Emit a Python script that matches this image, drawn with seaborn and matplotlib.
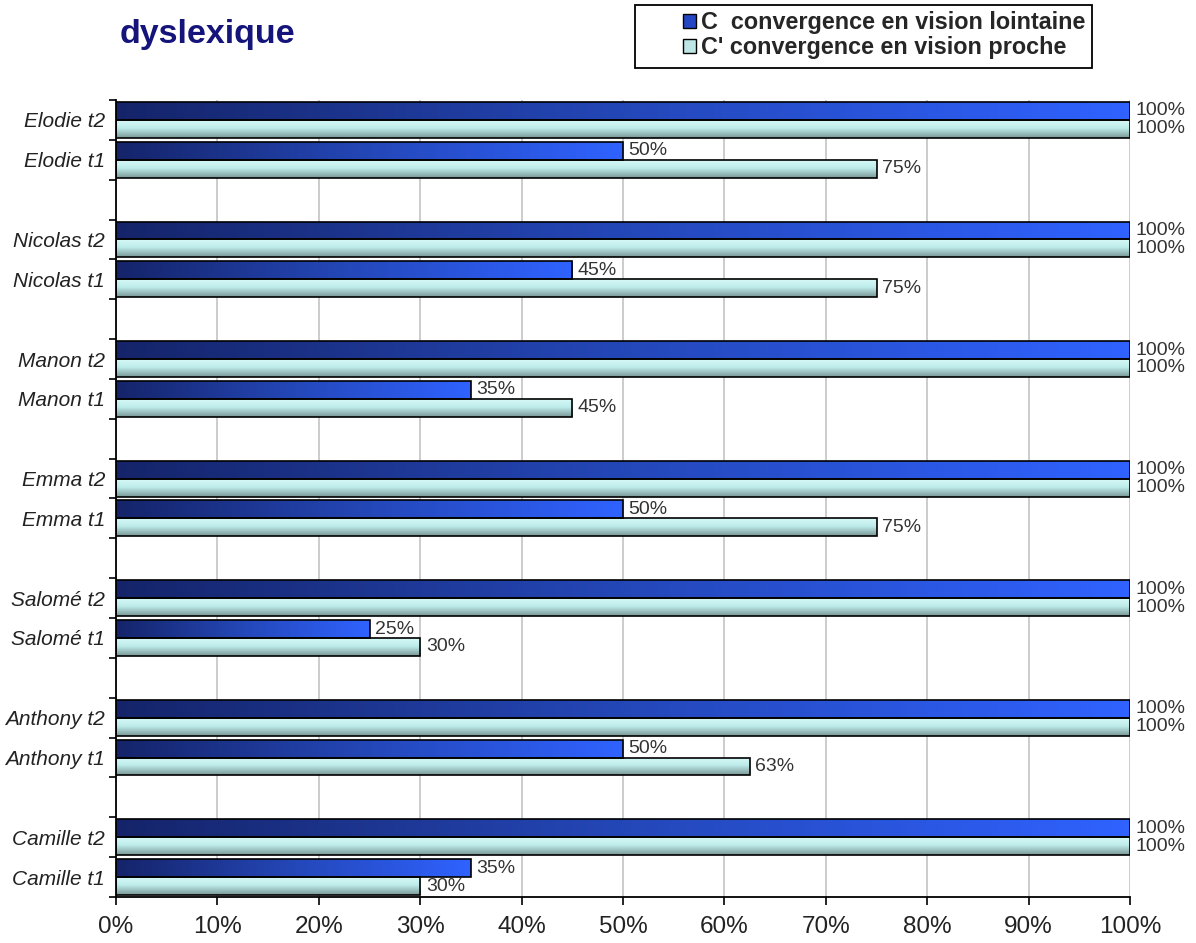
import numpy as np
import pandas as pd
import matplotlib
matplotlib.use("Agg")
import matplotlib.pyplot as plt
from matplotlib.colors import LinearSegmentedColormap
from matplotlib.patches import Patch, Rectangle
import seaborn as sns

# ---- data -------------------------------------------------------------
persons = ["Elodie", "Nicolas", "Manon", "Emma", "Salomé", "Anthony", "Camille"]
series = ["C  convergence en vision lointaine", "C' convergence en vision proche"]

far_t2 = [100, 100, 100, 100, 100, 100, 100]
near_t2 = [100, 100, 100, 100, 100, 100, 100]
far_t1 = [50, 45, 35, 50, 25, 50, 35]
near_t1 = [75, 75, 45, 75, 30, 62.5, 30]

x_ticks = [0, 10, 20, 30, 40, 50, 60, 70, 80, 90, 100]
title = "dyslexique"

# ---- long-form table with blank spacer rows between persons ------------
order = []
rows = []
for i, p in enumerate(persons):
    for sess, fv, nv in (("t2", far_t2[i], near_t2[i]), ("t1", far_t1[i], near_t1[i])):
        lab = f"{p} {sess}"
        order.append(lab)
        rows.append({"row": lab, "serie": series[0], "val": fv})
        rows.append({"row": lab, "serie": series[1], "val": nv})
    if i < len(persons) - 1:
        order.append(" " * (i + 1))
df = pd.DataFrame(rows)

# ---- styling ----------------------------------------------------------
sns.set_style("ticks")
plt.rcParams["font.family"] = ["Liberation Sans", "DejaVu Sans"]

fig = plt.figure(figsize=(11.96, 9.43), dpi=100)
ax = fig.add_axes([116 / 1196, 1 - 897 / 943, (1130 - 116) / 1196, (897 - 100) / 943])

sns.barplot(data=df, y="row", x="val", hue="serie", order=order,
            hue_order=series, orient="h", width=0.9, ax=ax,
            errorbar=None, legend=False, saturation=1,
            edgecolor="black", linewidth=1.2)

# gradient fills
far_cmap = LinearSegmentedColormap.from_list("far", ["#15246a", "#2447b8", "#2f62ff"])
near_cmap = LinearSegmentedColormap.from_list(
    "near", [(0, "#d6f9f7"), (0.45, "#bdecea"), (1, "#7a9797")])

for k, cont in enumerate(ax.containers):
    for bar in cont:
        x0, y0 = bar.get_x(), bar.get_y()
        w, h = bar.get_width(), bar.get_height()
        if k == 0:
            grad = np.linspace(0, 1, 256).reshape(1, -1)
            cmap = far_cmap
        else:
            grad = np.linspace(0, 1, 64).reshape(-1, 1)
            cmap = near_cmap
        im = ax.imshow(grad, cmap=cmap, aspect="auto", origin="upper",
                       extent=[x0, x0 + w, y0 + h, y0], zorder=2,
                       interpolation="bilinear")
        im.set_clip_path(bar)
        bar.set_facecolor("none")
        bar.set_zorder(3)

    labels = [f"{int(v + 0.5)}%" for v in cont.datavalues]
    ax.bar_label(cont, labels=labels, padding=4, fontsize=14, color="#333333")

ax.set_xlim(0, 100)
ax.set_ylim(len(order) - 0.5, -0.5)

# axes, ticks and grid
ax.set_xticks(x_ticks)
ax.set_xticklabels([f"{t}%" for t in x_ticks], fontsize=17.5, color="#222222")
ax.tick_params(axis="x", direction="out", length=6, width=1.2, pad=8, color="black")

ax.set_yticks(np.arange(-0.5, len(order)), labels=[])
ax.tick_params(axis="y", which="major", direction="out", length=5, width=1.2, color="black")
ax.set_yticks(np.arange(len(order)), minor=True)
ax.set_yticklabels([o if o.strip() else "" for o in order], minor=True,
                   fontsize=15, fontstyle="italic", color="#222222")
ax.tick_params(axis="y", which="minor", length=0, pad=8)

ax.xaxis.grid(True, color="#c8c8c8", linewidth=1.3, zorder=0)
ax.yaxis.grid(False)
ax.set_axisbelow(True)
for s in ("top", "right"):
    ax.spines[s].set_visible(False)
for s in ("left", "bottom"):
    ax.spines[s].set_color("black")
    ax.spines[s].set_linewidth(1.3)
ax.set_xlabel("")
ax.set_ylabel("")

# title
fig.text(120 / 1196, 1 - 35 / 943, title, fontsize=24.5, fontweight="bold",
         color="#14147a", va="center", ha="left")

# legend with its own box
handles = [Patch(facecolor="#2546c4", edgecolor="black", linewidth=1),
           Patch(facecolor="#bfe6e6", edgecolor="black", linewidth=1)]
fig.legend(handles, series, loc="center left",
           bbox_to_anchor=(664 / 1196, 1 - 35 / 943), frameon=False,
           handlelength=0.55, handleheight=0.55,
           handletextpad=0.25, labelspacing=0.1, borderpad=0.3,
           prop={"weight": "bold", "size": 16.8})
fig.patches.append(Rectangle((635 / 1196, 1 - 68 / 943), (1092 - 635) / 1196,
                             (68 - 5) / 943, transform=fig.transFigure,
                             fill=False, edgecolor="black", linewidth=1.3))

fig.savefig("out.png", dpi=100)
